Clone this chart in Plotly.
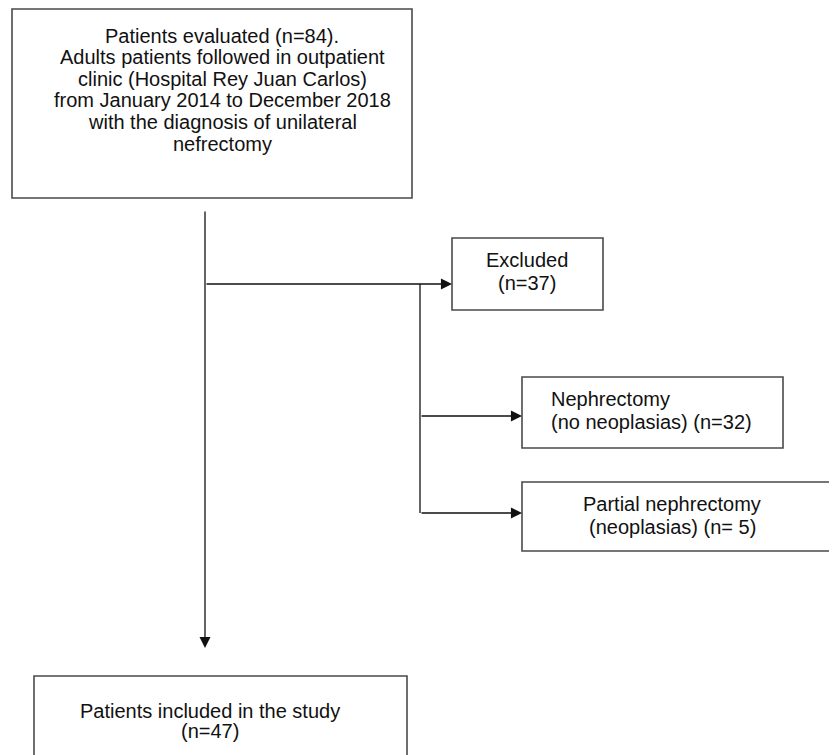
import plotly.graph_objects as go

# ---- data ----
stage_names = ["evaluated", "excluded", "nephrectomy", "partial", "included"]
stage_counts = [84, 37, 32, 5, 47]
top_description = [
    "Adults patients followed in outpatient",
    "clinic (Hospital Rey Juan Carlos)",
    "from January 2014 to December 2018",
    "with the diagnosis of unilateral",
    "nefrectomy",
]
n = dict(zip(stage_names, stage_counts))

box_lines = {
    "evaluated": [f"Patients evaluated (n={n['evaluated']})."] + top_description,
    "excluded": ["Excluded", f"(n={n['excluded']})"],
    "nephrectomy": ["Nephrectomy", f"(no neoplasias) (n={n['nephrectomy']})"],
    "partial": ["Partial nephrectomy", f"(neoplasias) (n= {n['partial']})"],
    "included": ["Patients included in the study", f"(n={n['included']})"],
}

# ---- layout (pixel canvas, y downwards; page body has an 8px margin) ----
W, H = 837, 755
OFF = 8
boxes = {  # x0, y0, x1, y1
    "evaluated": (12, 9, 412, 198),
    "excluded": (452, 238, 603, 310),
    "nephrectomy": (522, 377, 783, 448),
    "partial": (522, 482, 860, 551),
    "included": (34, 676, 407, 790),
}
text_pos = {  # x, first line centre y, line step, align
    "evaluated": (222, 35.5, 21.6, "center"),
    "excluded": (527, 260, 22.5, "center"),
    "nephrectomy": (549, 399, 23, "left"),
    "partial": (672, 504, 23, "center"),
    "included": (210, 711, 20, "center"),
}
connectors = [  # (x_from, y_from, x_to, y_to, arrow)
    (205, 210, 205, 648, True),
    (205, 284, 452, 284, True),
    (420, 284, 420, 513, False),
    (420, 416, 522, 416, True),
    (420, 513, 522, 513, True),
]

FONT = "Liberation Sans, Arial, Helvetica, sans-serif"
fig = go.Figure()
shapes = []
annotations = []
for key, (x0, y0, x1, y1) in boxes.items():
    shapes.append(dict(type="rect", x0=x0, y0=y0, x1=x1, y1=y1, xref="x", yref="y",
                       line=dict(color="#4a4a4a", width=1.6), fillcolor="rgba(0,0,0,0)"))
for key, lines in box_lines.items():
    x, y, step, align = text_pos[key]
    for i, t in enumerate(lines):
        annotations.append(dict(x=x, y=y + i * step, xref="x", yref="y", text=t,
                                showarrow=False, xanchor="left" if align == "left" else "center",
                                yanchor="middle", font=dict(family=FONT, size=20, color="#111111")))
for (xa, ya, xb, yb, arrow) in connectors:
    if arrow:
        annotations.append(dict(x=xb, y=yb, ax=xa, ay=ya, xref="x", yref="y", axref="x", ayref="y",
                                text="", showarrow=True, arrowhead=2, arrowsize=1.7, arrowwidth=1.3,
                                arrowcolor="#111111", standoff=0, startstandoff=0))
    else:
        shapes.append(dict(type="line", x0=xa, y0=ya, x1=xb, y1=yb, xref="x", yref="y",
                           line=dict(color="#111111", width=1.3)))

fig.update_layout(
    width=W - OFF, height=H - OFF, margin=dict(l=0, r=0, t=0, b=0),
    paper_bgcolor="white", plot_bgcolor="white",
    xaxis=dict(range=[OFF, W], visible=False, fixedrange=True),
    yaxis=dict(range=[H, OFF], visible=False, fixedrange=True),
    shapes=shapes, annotations=annotations, showlegend=False,
)
fig.write_html("out.html", config={"displayModeBar": False})
